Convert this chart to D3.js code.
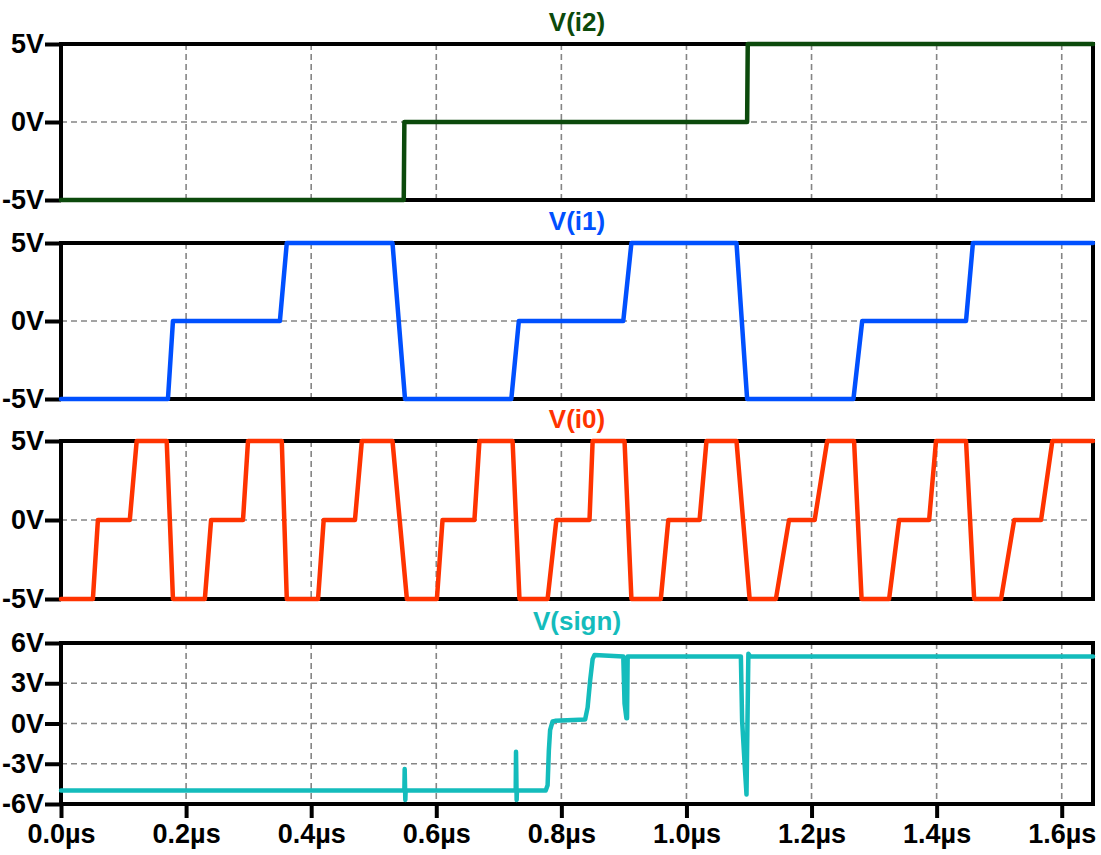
<!DOCTYPE html>
<html><head><meta charset="utf-8">
<script src="https://cdn.jsdelivr.net/npm/d3@7"></script>
<style>
html,body{margin:0;padding:0;background:#fff;}
svg{display:block;}
text{font-family:"Liberation Sans",Arial,sans-serif;font-weight:bold;}
</style></head>
<body>
<svg id="chart" width="1101" height="855"></svg>
<script>
// ---- data (time in µs, values in V) ----
const timeMax = 1.65;
const xTickValues = [0, 0.2, 0.4, 0.6, 0.8, 1.0, 1.2, 1.4, 1.6];
const xTickLabels = ["0.0µs","0.2µs","0.4µs","0.6µs","0.8µs","1.0µs","1.2µs","1.4µs","1.6µs"];

const seriesNames = ["V(i2)", "V(i1)", "V(i0)", "V(sign)"];
const seriesColors = ["#0c4a0c", "#0050ff", "#ff3300", "#14bcbc"];

const yTicks5 = [-5, 0, 5];
const yTickLabels5 = ["-5V", "0V", "5V"];
const yTicks6 = [-6, -3, 0, 3, 6];
const yTickLabels6 = ["-6V", "-3V", "0V", "3V", "6V"];

const i2Time = [0, 0.548, 0.549, 1.097, 1.098, 1.65];
const i2Volt = [-5, -5, 0, 0, 5, 5];

const i1Time = [0, 0.171, 0.179, 0.350, 0.361, 0.530, 0.550, 0.720, 0.732, 0.899, 0.912, 1.080, 1.097, 1.267, 1.281, 1.447, 1.458, 1.65];
const i1Volt = [-5, -5, 0, 0, 5, 5, -5, -5, 0, 0, 5, 5, -5, -5, 0, 0, 5, 5];

const i0Time = [0,
  0.051, 0.059, 0.110, 0.121, 0.169, 0.179,
  0.230, 0.240, 0.291, 0.299, 0.353, 0.361,
  0.411, 0.420, 0.470, 0.481, 0.530, 0.553,
  0.601, 0.610, 0.661, 0.669, 0.722, 0.733,
  0.778, 0.792, 0.845, 0.850, 0.901, 0.912,
  0.959, 0.971, 1.021, 1.032, 1.080, 1.101,
  1.143, 1.164, 1.205, 1.225, 1.268, 1.280,
  1.324, 1.340, 1.388, 1.399, 1.447, 1.460,
  1.503, 1.524, 1.567, 1.585, 1.65];
const i0Volt = [-5,
  -5, 0, 0, 5, 5, -5,
  -5, 0, 0, 5, 5, -5,
  -5, 0, 0, 5, 5, -5,
  -5, 0, 0, 5, 5, -5,
  -5, 0, 0, 5, 5, -5,
  -5, 0, 0, 5, 5, -5,
  -5, 0, 0, 5, 5, -5,
  -5, 0, 0, 5, 5, -5,
  -5, 0, 0, 5, 5];

const signTime = [0, 0.549, 0.5495, 0.5505, 0.551,
  0.727, 0.7275, 0.7285, 0.729,
  0.775, 0.778, 0.780, 0.782, 0.786, 0.790, 0.838, 0.842, 0.846, 0.850, 0.853,
  0.899, 0.901, 0.904, 0.905, 0.906,
  1.087, 1.089, 1.093, 1.096, 1.099, 1.102, 1.65];
const signVolt = [-5, -5, -3.4, -5.7, -5,
  -5, -2.1, -5.7, -5,
  -5, -4.6, -2.0, -0.5, 0.15, 0.2, 0.3, 1.2, 3.2, 4.8, 5.1,
  5.0, 1.5, 0.4, 0.4, 5.0,
  5.0, 0.2, -3.0, -5.3, 5.2, 5.0, 5.0];

// ---- layout ----
const left = 61, right = 1093;
const panelTops = [44, 243, 441, 643];
const panelBottoms = [200, 399, 599, 804];

const svg = d3.select("#chart");
const x = d3.scaleLinear().domain([0, timeMax]).range([left, right]);

const panels = [
  {name: seriesNames[0], color: seriesColors[0], t: i2Time, v: i2Volt, dom: [-5, 5], ticks: yTicks5, labels: yTickLabels5},
  {name: seriesNames[1], color: seriesColors[1], t: i1Time, v: i1Volt, dom: [-5, 5], ticks: yTicks5, labels: yTickLabels5},
  {name: seriesNames[2], color: seriesColors[2], t: i0Time, v: i0Volt, dom: [-5, 5], ticks: yTicks5, labels: yTickLabels5},
  {name: seriesNames[3], color: seriesColors[3], t: signTime, v: signVolt, dom: [-6, 6], ticks: yTicks6, labels: yTickLabels6}
];

panels.forEach((p, i) => {
  const top = panelTops[i], bot = panelBottoms[i];
  const y = d3.scaleLinear().domain(p.dom).range([bot, top]);
  const g = svg.append("g");

  // grid
  g.selectAll("line.hg").data(p.ticks.filter(d => d !== p.dom[0] && d !== p.dom[1])).join("line")
    .attr("x1", left).attr("x2", right).attr("y1", d => y(d)).attr("y2", d => y(d))
    .attr("stroke", "#858585").attr("stroke-width", 1.6).attr("stroke-dasharray", "6,4");
  g.selectAll("line.vg").data(xTickValues.filter(d => d > 0)).join("line")
    .attr("x1", d => x(d)).attr("x2", d => x(d)).attr("y1", top).attr("y2", bot)
    .attr("stroke", "#858585").attr("stroke-width", 1.6).attr("stroke-dasharray", "6,4");

  // y axis
  const yAxis = d3.axisLeft(y).tickValues(p.ticks).tickFormat(d => p.labels[p.ticks.indexOf(d)])
    .tickSize(16).tickPadding(1);
  const ya = g.append("g").attr("transform", `translate(${left},0)`).call(yAxis);
  ya.select(".domain").remove();
  ya.selectAll(".tick line").attr("stroke", "#000").attr("stroke-width", 4);
  ya.selectAll(".tick text").attr("fill", "#000").style("font-size", "27px")
    .attr("font-family", null);

  // frame
  g.append("rect").attr("x", left).attr("y", top).attr("width", right - left).attr("height", bot - top)
    .attr("fill", "none").attr("stroke", "#000").attr("stroke-width", 4);

  // x axis on bottom panel
  if (i === panels.length - 1) {
    const xAxis = d3.axisBottom(x).tickValues(xTickValues)
      .tickFormat(d => xTickLabels[xTickValues.indexOf(d)]).tickSize(14).tickPadding(6);
    const xa = g.append("g").attr("transform", `translate(0,${bot})`).call(xAxis);
    xa.select(".domain").remove();
    xa.selectAll(".tick line").attr("stroke", "#000").attr("stroke-width", 4);
    xa.selectAll(".tick text").attr("fill", "#000").style("font-size", "27px").attr("font-family", null);
  }

  // trace
  const pts = p.t.map((t, k) => [t, p.v[k]]);
  const line = d3.line().x(d => x(d[0])).y(d => y(d[1]));
  g.append("path").attr("d", line(pts)).attr("fill", "none")
    .attr("stroke", p.color).attr("stroke-width", 4.5).attr("stroke-linejoin", "round").attr("stroke-linecap", "round");

  // title
  g.append("text").attr("x", (left + right) / 2).attr("y", top - 13)
    .attr("text-anchor", "middle").attr("fill", p.color).style("font-size", "26px").text(p.name);
});
</script>
</body></html>
